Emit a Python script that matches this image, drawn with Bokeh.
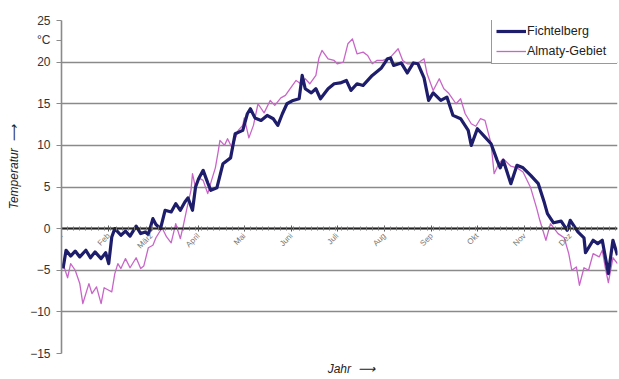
import numpy as np
from bokeh.plotting import figure
from bokeh.models import Range1d, FixedTicker, Legend, LegendItem, LinearAxis
from bokeh.embed import file_html
from bokeh.resources import INLINE

months = ["Jan", "Feb", "März", "April", "Mai", "Juni", "Juli", "Aug", "Sep", "Okt", "Nov", "Dez"]
month_start = [0, 31, 59, 90, 120, 151, 181, 212, 243, 273, 304, 334]
y_ticks = [-15, -10, -5, 0, 5, 10, 15, 20, 25]
unit_pos = 22.6
unit_text = "°C"

fich_day = [1, 3, 6, 9, 12, 16, 19, 22, 26, 29, 31, 33, 35, 39, 42, 45, 49, 52, 55, 57,
            60, 62, 65, 68, 72, 75, 78, 81, 83, 86, 88, 90, 93, 96, 98, 102, 106, 111,
            114, 119, 122, 124, 127, 131, 135, 139, 142, 145, 148, 152, 156, 158, 160,
            164, 167, 170, 175, 179, 183, 187, 190, 194, 198, 201, 204, 210, 214, 216,
            218, 223, 227, 231, 234, 238, 241, 244, 249, 253, 257, 262, 267, 269, 273,
            277, 282, 286, 288, 290, 295, 299, 303, 308, 313, 317, 319, 323, 328, 332,
            334, 339, 343, 344, 349, 352, 355, 359, 362, 365]
fich_temp = [-4.8, -2.6, -3.3, -2.7, -3.4, -2.6, -3.5, -2.8, -3.6, -2.9, -4.2, -1.0, 0.0,
             -0.8, -0.3, -0.9, 0.3, -0.6, -0.4, -0.7, 1.2, 0.5, 0.0, 2.2, 2.0, 3.0, 2.2,
             3.2, 3.7, 2.2, 5.0, 6.0, 7.0, 5.5, 4.6, 4.9, 7.8, 8.5, 11.4, 11.8, 13.8,
             14.4, 13.3, 13.0, 13.6, 13.2, 12.4, 13.8, 15.0, 15.4, 15.6, 18.4, 16.8,
             16.3, 16.8, 15.6, 16.8, 17.4, 17.5, 17.8, 16.6, 17.4, 17.2, 17.8, 18.4,
             19.3, 20.4, 20.5, 19.6, 19.9, 18.7, 19.9, 19.8, 18.1, 15.4, 16.3, 15.4,
             15.8, 13.6, 13.2, 11.8, 10.0, 12.0, 11.2, 10.2, 8.2, 7.3, 8.2, 5.4, 7.6,
             7.3, 6.4, 5.4, 3.1, 1.8, 0.7, 0.9, -0.2, 1.0, -0.4, -1.1, -2.9, -1.4, -1.8,
             -1.4, -5.4, -1.4, -3.2]

alm_day = [1, 4, 6, 9, 12, 14, 18, 20, 23, 26, 28, 31, 33, 35, 37, 39, 42, 45, 49, 52,
           54, 57, 60, 62, 66, 69, 72, 75, 78, 80, 83, 85, 86, 88, 90, 93, 96, 98, 101,
           103, 104, 107, 109, 112, 116, 119, 120, 123, 126, 129, 133, 137, 140, 144,
           147, 150, 154, 157, 160, 163, 167, 169, 171, 175, 179, 181, 185, 188, 191,
           194, 198, 201, 204, 207, 211, 216, 221, 224, 227, 231, 234, 238, 240, 244,
           248, 251, 254, 259, 262, 265, 269, 272, 275, 278, 282, 284, 287, 290, 295,
           299, 303, 308, 312, 314, 318, 321, 326, 330, 333, 335, 338, 340, 343, 346,
           349, 353, 355, 357, 359, 362, 365]
alm_temp = [-4.2, -5.9, -4.2, -5.0, -6.6, -9.0, -6.6, -7.8, -7.0, -9.0, -7.1, -7.4, -7.6,
            -5.4, -4.2, -4.8, -3.6, -4.7, -3.5, -4.8, -4.5, -2.3, -2.0, -1.1, 0.1, -1.0,
            -1.7, 0.6, -1.2, 0.4, 3.0, 4.6, 6.6, 4.9, 6.1, 5.8, 4.2, 5.5, 7.3, 9.4, 10.6,
            10.0, 10.8, 9.7, 11.8, 12.4, 13.3, 10.9, 12.4, 15.0, 13.9, 15.4, 14.8, 15.7,
            16.0, 16.8, 17.8, 17.4, 18.0, 17.4, 18.4, 20.5, 21.4, 20.4, 20.2, 19.8, 20.0,
            22.2, 22.8, 21.0, 21.2, 20.8, 19.8, 20.2, 20.2, 20.6, 21.6, 20.2, 19.8, 19.8,
            19.9, 20.4, 18.6, 16.6, 18.0, 16.8, 16.3, 15.0, 15.6, 13.8, 12.6, 12.3, 13.2,
            13.0, 10.2, 6.6, 7.8, 8.4, 7.5, 7.3, 6.8, 4.9, 2.4, 1.0, -1.4, 0.6, -0.6,
            -1.1, -3.0, -5.0, -4.6, -6.8, -4.7, -5.0, -3.0, -3.4, -2.6, -4.7, -6.5, -3.5,
            -4.2]

FONT = "Liberation Sans"
NAVY = "#1d1d6b"
PINK = "#c866c8"
GRID = "#8a8a8a"
NB = "\u00a0"

p = figure(width=619, height=379, output_backend="svg", toolbar_location=None,
           x_range=Range1d(0, 365), y_range=Range1d(-15, 25),
           min_border_left=61, min_border_right=2, min_border_top=20,
           min_border_bottom=26)
p.outline_line_color = None
p.background_fill_color = "white"
p.border_fill_color = "white"

# grid
p.xgrid.visible = False
p.ygrid.ticker = FixedTicker(ticks=y_ticks)
p.ygrid.grid_line_color = GRID
p.ygrid.grid_line_width = 1.6

# y axis (the unit "°C" sits among the tick labels)
p.yaxis.ticker = FixedTicker(ticks=y_ticks + [unit_pos])
p.yaxis.major_label_overrides = {unit_pos: unit_text}
p.yaxis.axis_line_color = GRID
p.yaxis.axis_line_width = 1.6
p.yaxis.major_tick_out = 5
p.yaxis.major_tick_in = 0
p.yaxis.major_tick_line_color = GRID
p.yaxis.minor_tick_line_color = None
p.yaxis.major_label_text_font = FONT
p.yaxis.major_label_text_font_size = "12px"
p.yaxis.major_label_text_color = "#333333"
p.yaxis.major_label_standoff = 6
p.yaxis.axis_label = NB * 12 + "Temperatur" + NB * 2 + "⟶"
p.yaxis.axis_label_text_font = FONT
p.yaxis.axis_label_text_font_size = "12px"
p.yaxis.axis_label_text_font_style = "italic"
p.yaxis.axis_label_text_color = "#222222"
p.yaxis.axis_label_standoff = 6

# x axis at zero
minor = list(np.arange(0, 366, 4.0))
p.xaxis.fixed_location = 0
p.xaxis.ticker = FixedTicker(ticks=month_start, minor_ticks=minor)
p.xaxis.major_label_overrides = {m: lab for m, lab in zip(month_start, months)}
p.xaxis.major_label_orientation = np.pi / 4
p.xaxis.axis_line_color = "#222222"
p.xaxis.axis_line_width = 2
p.xaxis.major_tick_in = 3
p.xaxis.major_tick_out = 3
p.xaxis.minor_tick_in = 2
p.xaxis.minor_tick_out = 2
p.xaxis.major_tick_line_color = "#555555"
p.xaxis.minor_tick_line_color = "#777777"
p.xaxis.major_label_text_font = FONT
p.xaxis.major_label_text_font_size = "8px"
p.xaxis.major_label_text_color = "#777777"
p.xaxis.major_label_standoff = 3

# separate axis below only for the title "Jahr"
jahr_axis = LinearAxis(ticker=FixedTicker(ticks=[]), axis_line_color=None,
                       major_tick_line_color=None, minor_tick_line_color=None,
                       major_label_text_font_size="0px",
                       axis_label=NB * 7 + "Jahr" + NB * 2 + "⟶",
                       axis_label_text_font=FONT, axis_label_text_font_size="12px",
                       axis_label_text_font_style="italic",
                       axis_label_text_color="#222222", axis_label_standoff=8)
p.add_layout(jahr_axis, "below")

r_f = p.line(fich_day, fich_temp, line_color=NAVY, line_width=3.2, line_join="round")
r_a = p.line(alm_day, alm_temp, line_color=PINK, line_width=1.3, line_join="round")
p.renderers = [r_a, r_f]

legend = Legend(items=[LegendItem(label="Fichtelberg", renderers=[r_f]),
                       LegendItem(label="Almaty-Gebiet", renderers=[r_a])],
                location=(430, 289), padding=4, spacing=4, margin=0,
                label_height=16, glyph_height=16, glyph_width=30,
                label_standoff=1, label_width=87,
                label_text_font=FONT, label_text_font_size="12.5px",
                label_text_color="#222222",
                border_line_color="#333333", border_line_width=1,
                background_fill_color="white", background_fill_alpha=1)
p.add_layout(legend)

open("out.html", "w").write(file_html(p, INLINE))
